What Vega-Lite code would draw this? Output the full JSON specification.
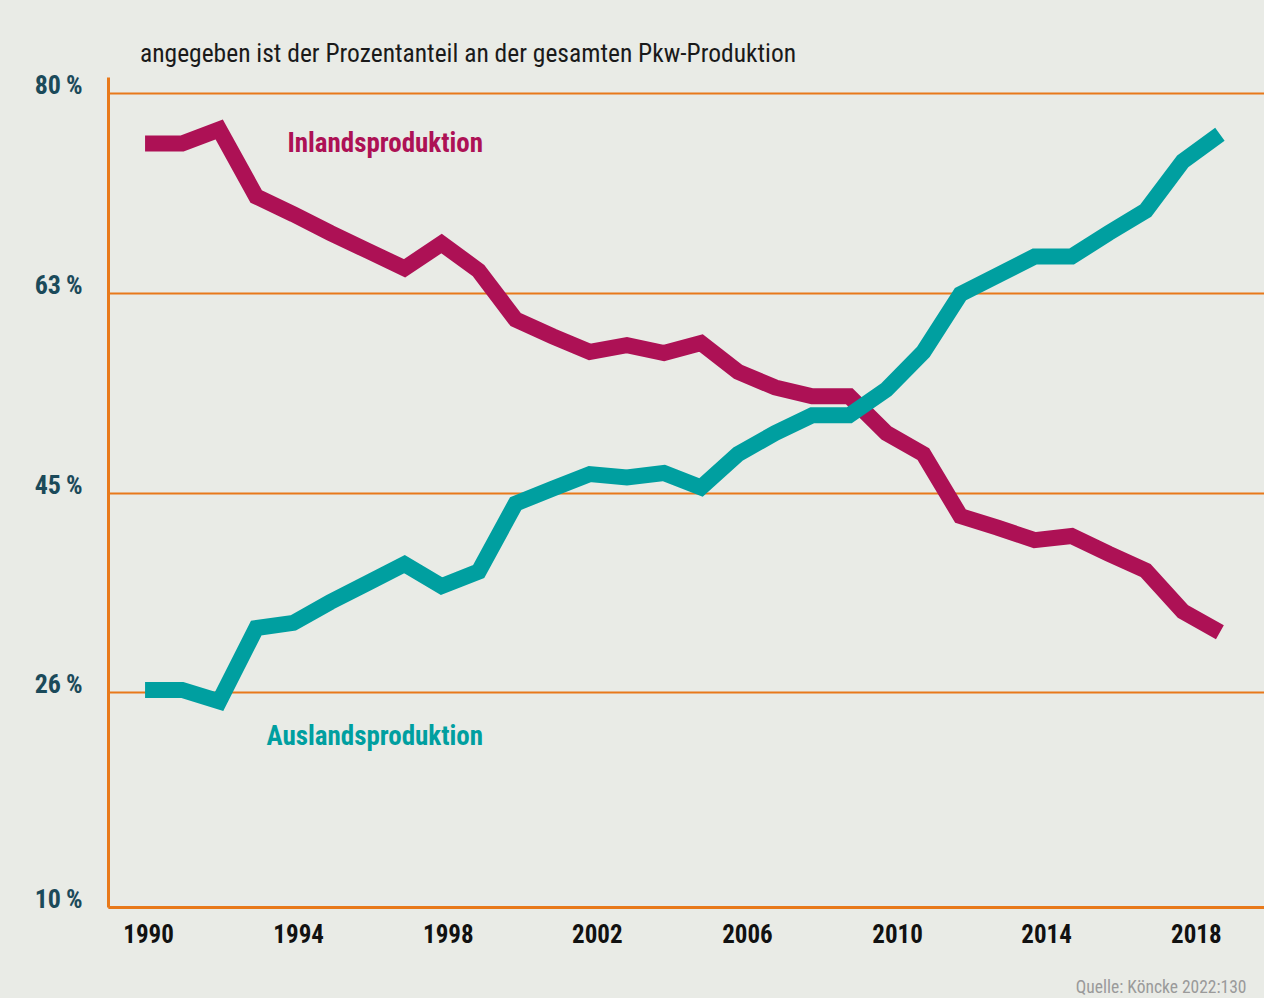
{
  "$schema": "https://vega.github.io/schema/vega-lite/v6.json",
  "autosize": {"type": "none"},
  "padding": {"left": 108, "top": 77, "right": 0, "bottom": 91},
  "width": 1156,
  "height": 830,
  "background": "#e9ebe6",
  "config": {
    "view": {"stroke": null},
    "font": "Roboto Condensed, Noto Sans Condensed, DejaVu Sans Condensed, sans-serif"
  },
  "title": {
    "text": "angegeben ist der Prozentanteil an der gesamten Pkw-Produktion",
    "anchor": "start",
    "frame": "group",
    "dx": 32,
    "dy": 55,
    "offset": 17,
    "baseline": "alphabetic",
    "fontSize": 25.5,
    "fontWeight": "normal",
    "color": "#1a1a1a",
    "font": "Roboto Condensed, Noto Sans Condensed, DejaVu Sans Condensed, sans-serif"
  },
  "datasets": {
    "series": [
      {"year": 1990, "series": "Inland", "value": 75.7},
      {"year": 1991, "series": "Inland", "value": 75.7},
      {"year": 1992, "series": "Inland", "value": 76.9},
      {"year": 1993, "series": "Inland", "value": 71.2},
      {"year": 1994, "series": "Inland", "value": 69.7},
      {"year": 1995, "series": "Inland", "value": 68.1},
      {"year": 1996, "series": "Inland", "value": 66.6},
      {"year": 1997, "series": "Inland", "value": 65.1},
      {"year": 1998, "series": "Inland", "value": 67.2},
      {"year": 1999, "series": "Inland", "value": 64.9},
      {"year": 2000, "series": "Inland", "value": 60.6},
      {"year": 2001, "series": "Inland", "value": 59.1},
      {"year": 2002, "series": "Inland", "value": 57.7},
      {"year": 2003, "series": "Inland", "value": 58.3},
      {"year": 2004, "series": "Inland", "value": 57.6},
      {"year": 2005, "series": "Inland", "value": 58.5},
      {"year": 2006, "series": "Inland", "value": 55.9},
      {"year": 2007, "series": "Inland", "value": 54.5},
      {"year": 2008, "series": "Inland", "value": 53.7},
      {"year": 2009, "series": "Inland", "value": 53.7},
      {"year": 2010, "series": "Inland", "value": 50.4},
      {"year": 2011, "series": "Inland", "value": 48.5},
      {"year": 2012, "series": "Inland", "value": 42.8},
      {"year": 2013, "series": "Inland", "value": 41.7},
      {"year": 2014, "series": "Inland", "value": 40.5},
      {"year": 2015, "series": "Inland", "value": 40.9},
      {"year": 2016, "series": "Inland", "value": 39.2},
      {"year": 2017, "series": "Inland", "value": 37.6},
      {"year": 2018, "series": "Inland", "value": 33.7},
      {"year": 2019, "series": "Inland", "value": 31.7},
      {"year": 1990, "series": "Ausland", "value": 26.2},
      {"year": 1991, "series": "Ausland", "value": 26.2},
      {"year": 1992, "series": "Ausland", "value": 25.3},
      {"year": 1993, "series": "Ausland", "value": 32.1},
      {"year": 1994, "series": "Ausland", "value": 32.6},
      {"year": 1995, "series": "Ausland", "value": 34.6},
      {"year": 1996, "series": "Ausland", "value": 36.4},
      {"year": 1997, "series": "Ausland", "value": 38.2},
      {"year": 1998, "series": "Ausland", "value": 36.1},
      {"year": 1999, "series": "Ausland", "value": 37.5},
      {"year": 2000, "series": "Ausland", "value": 44.0},
      {"year": 2001, "series": "Ausland", "value": 45.4},
      {"year": 2002, "series": "Ausland", "value": 46.7},
      {"year": 2003, "series": "Ausland", "value": 46.4},
      {"year": 2004, "series": "Ausland", "value": 46.8},
      {"year": 2005, "series": "Ausland", "value": 45.5},
      {"year": 2006, "series": "Ausland", "value": 48.5},
      {"year": 2007, "series": "Ausland", "value": 50.4},
      {"year": 2008, "series": "Ausland", "value": 52.0},
      {"year": 2009, "series": "Ausland", "value": 52.0},
      {"year": 2010, "series": "Ausland", "value": 54.3},
      {"year": 2011, "series": "Ausland", "value": 57.7},
      {"year": 2012, "series": "Ausland", "value": 62.9},
      {"year": 2013, "series": "Ausland", "value": 64.5},
      {"year": 2014, "series": "Ausland", "value": 66.1},
      {"year": 2015, "series": "Ausland", "value": 66.1},
      {"year": 2016, "series": "Ausland", "value": 68.1},
      {"year": 2017, "series": "Ausland", "value": 70.0},
      {"year": 2018, "series": "Ausland", "value": 74.2},
      {"year": 2019, "series": "Ausland", "value": 76.5}
    ],
    "labels": [
      {"year": 1999.12, "value": 74.98, "series": "Inland", "label": "Inlandsproduktion"},
      {"year": 1999.12, "value": 22.06, "series": "Ausland", "label": "Auslandsproduktion"}
    ]
  },
  "encoding": {
    "x": {
      "field": "year",
      "type": "quantitative",
      "scale": {"domain": [1989.0, 2020.19], "nice": false, "zero": false},
      "axis": {
        "values": [1990.08, 1994.13, 1998.17, 2002.19, 2006.24, 2010.29, 2014.31, 2018.35],
        "labelExpr": "round(datum.value)",
        "grid": false,
        "ticks": false,
        "tickSize": 0,
        "domainColor": "#e8791a",
        "domainWidth": 3,
        "labelPadding": 35,
        "labelBaseline": "alphabetic",
        "labelFontSize": 25,
        "labelFontWeight": "bold",
        "labelColor": "#111111",
        "labelFont": "Roboto Condensed, Noto Sans Condensed, DejaVu Sans Condensed, sans-serif",
        "title": "Quelle: Köncke 2022:130",
        "titleAnchor": "end",
        "titleAlign": "right",
        "titleBaseline": "alphabetic",
        "titleX": 1138,
        "titleY": 85,
        "titleFontSize": 17.5,
        "titleFontWeight": "normal",
        "titleColor": "#9a9a9a",
        "titleFont": "Roboto Condensed, Noto Sans Condensed, DejaVu Sans Condensed, sans-serif"
      }
    },
    "y": {
      "field": "value",
      "type": "quantitative",
      "scale": {
        "domain": [10, 26, 45, 63, 80, 81.36],
        "range": [830, 615, 416, 216, 16, 0],
        "nice": false,
        "zero": false
      },
      "axis": {
        "values": [10, 26, 45, 63, 80],
        "labelExpr": "datum.value + '\u2009%'",
        "grid": true,
        "gridColor": "#e8791a",
        "gridWidth": 2,
        "gridOpacity": 1,
        "ticks": false,
        "tickSize": 0,
        "domainColor": "#e8791a",
        "domainWidth": 3,
        "labelPadding": 26,
        "labelBaseline": "alphabetic",
        "labelFontSize": 26,
        "labelFontWeight": "bold",
        "labelColor": "#1b4a5a",
        "labelFont": "Roboto Condensed, Noto Sans Condensed, DejaVu Sans Condensed, sans-serif",
        "title": null
      }
    },
    "color": {
      "field": "series",
      "type": "nominal",
      "scale": {"domain": ["Inland", "Ausland"], "range": ["#ad1155", "#009fa0"]},
      "legend": null
    }
  },
  "layer": [
    {
      "data": {"name": "series"},
      "mark": {"type": "line", "strokeWidth": 16, "strokeJoin": "miter", "strokeCap": "butt", "strokeMiterLimit": 10}
    },
    {
      "data": {"name": "labels"},
      "mark": {
        "type": "text",
        "align": "right",
        "baseline": "alphabetic",
        "fontSize": 27,
        "fontWeight": "bold",
        "font": "Roboto Condensed, Noto Sans Condensed, DejaVu Sans Condensed, sans-serif"
      },
      "encoding": {"text": {"field": "label"}}
    }
  ]
}
